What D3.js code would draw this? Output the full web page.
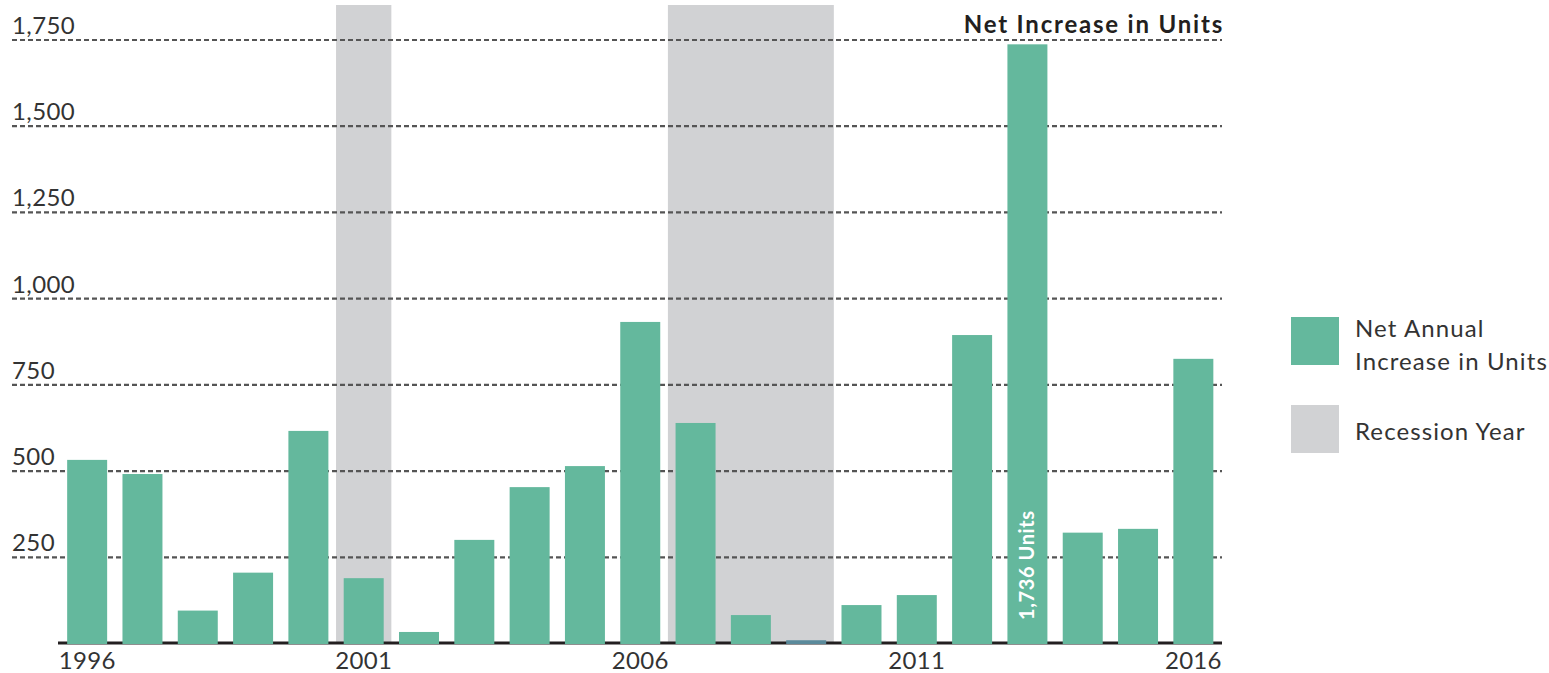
<!DOCTYPE html>
<html>
<head>
<meta charset="utf-8">
<script src="https://cdn.jsdelivr.net/npm/d3@7"></script>
<style>
  html, body { margin: 0; padding: 0; background: #fff; }
  svg { display: block; font-family: Lato, "Open Sans", sans-serif; }
</style>
</head>
<body>
<svg id="chart" width="1549" height="673"></svg>
<script>
// Net annual increase in housing units, 1996–2016
const years = d3.range(1996, 2017);
const netIncrease = [531, 490, 94, 204, 615, 188, 32, 299, 452, 513, 931, 638, 81, 8, 110, 139, 893, 1736, 320, 331, 824];
const recessionYears = [2001, 2007, 2008, 2009];
const yTicks = [250, 500, 750, 1000, 1250, 1500, 1750];
const xTickYears = [1996, 2001, 2006, 2011, 2016];
const labelledYear = 2013;
const lowYear = 2009;
const legendItems = [
  { lines: ["Net Annual", "Increase in Units"], key: "units" },
  { lines: ["Recession Year"], key: "recession" }
];

const GREEN = "#64b89d";
const GREY = "#d1d2d4";
const LOW = "#5a8a9b";

const svg = d3.select("#chart");

const x = d3.scaleBand().domain(years).range([59.5, 1221]).paddingInner(0.277).paddingOuter(0.1385);
const xFull = d3.scaleBand().domain(years).range([59.5, 1221]).padding(0);
const y = d3.scaleLinear().domain([0, 1750]).range([643, 39.5]);

// Recession shading: merge consecutive years into spans
const spans = [];
recessionYears.forEach(yr => {
  const last = spans[spans.length - 1];
  if (last && last.end === yr - 1) last.end = yr; else spans.push({ start: yr, end: yr });
});
svg.append("g").selectAll("rect").data(spans).join("rect")
  .attr("x", d => xFull(d.start))
  .attr("width", d => xFull(d.end) + xFull.bandwidth() - xFull(d.start))
  .attr("y", 5)
  .attr("height", y(0) - 5)
  .attr("fill", GREY);

// Dashed gridlines with labels sitting above them
const yAxis = svg.append("g").attr("transform", "translate(12,0)")
  .call(d3.axisRight(y).tickValues(yTicks).tickSize(1210).tickFormat(d3.format(",")));
yAxis.select(".domain").remove();
yAxis.selectAll(".tick line")
  .attr("stroke", "#555")
  .attr("stroke-width", 2.2)
  .attr("stroke-dasharray", "5,3");
yAxis.selectAll(".tick text")
  .attr("x", 0)
  .attr("dy", -6)
  .attr("text-anchor", "start")
  .attr("fill", "#333")
  .style("font-size", "24px")
  .style("letter-spacing", "0.4px")
  .style("font-family", "Lato, sans-serif");

// Baseline and year labels
const xAxis = svg.append("g").attr("transform", `translate(0,${y(0)})`)
  .call(d3.axisBottom(x).tickValues(xTickYears).tickSize(0).tickPadding(9));
xAxis.select(".domain")
  .attr("stroke", "#231f20")
  .attr("stroke-width", 3)
  .attr("d", "M58,0H1222");
xAxis.selectAll(".tick text")
  .attr("fill", "#333")
  .style("font-size", "24px")
  .style("letter-spacing", "0.3px")
  .style("font-family", "Lato, sans-serif");

// Bars, resting on the baseline
svg.append("g").selectAll("rect").data(years).join("rect")
  .attr("x", d => x(d))
  .attr("width", x.bandwidth())
  .attr("y", (d, i) => y(netIncrease[i]))
  .attr("height", (d, i) => y(0) + 1 - y(netIncrease[i]))
  .attr("fill", d => d === lowYear ? LOW : GREEN);

// Value label inside the tallest bar
const li = years.indexOf(labelledYear);
svg.append("text")
  .attr("transform", `translate(${x(labelledYear) + x.bandwidth() / 2 + 7},620) rotate(-90)`)
  .attr("fill", "#fff")
  .style("font-size", "20px")
  .style("font-weight", 700)
  .style("letter-spacing", "0.6px")
  .text(`${d3.format(",")(netIncrease[li])} Units`);

// Title
svg.append("text")
  .attr("x", 1224).attr("y", 33)
  .attr("text-anchor", "end")
  .attr("fill", "#231f20")
  .style("font-size", "24px")
  .style("font-weight", 700)
  .style("letter-spacing", "1.8px")
  .text("Net Increase in Units");

// Legend
const legend = svg.append("g").attr("transform", "translate(1291,317)");
const itemY = [0, 88];
legendItems.forEach((item, i) => {
  const g = legend.append("g").attr("transform", `translate(0,${itemY[i]})`);
  g.append("rect").attr("width", 48).attr("height", 48)
    .attr("fill", item.key === "units" ? GREEN : GREY);
  const t = g.append("text").attr("fill", "#333")
    .style("font-size", "24px")
    .style("letter-spacing", "1.1px");
  const first = item.lines.length === 1 ? 35 : 20;
  item.lines.forEach((ln, j) => {
    t.append("tspan").attr("x", 64).attr("y", first + j * 33).text(ln);
  });
});
</script>
</body>
</html>
